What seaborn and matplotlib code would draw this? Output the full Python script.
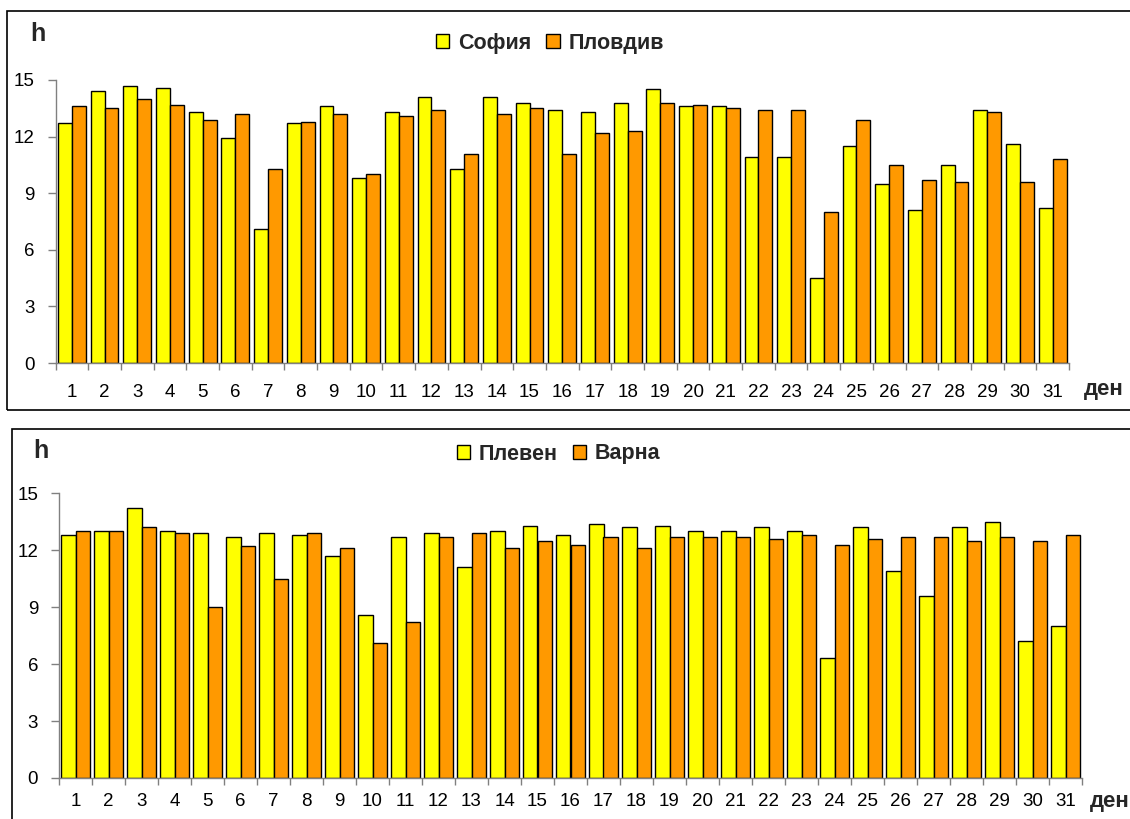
import matplotlib
matplotlib.use("Agg")
import matplotlib.pyplot as plt
import seaborn as sns
import pandas as pd
import numpy as np
from matplotlib.patches import Patch, Rectangle

# ---- data ----
days = list(range(1, 32))
sofia = [12.7, 14.4, 14.7, 14.6, 13.3, 11.9, 7.1, 12.7, 13.6, 9.8, 13.3, 14.1, 10.3, 14.1, 13.8, 13.4,
         13.3, 13.8, 14.5, 13.6, 13.6, 10.9, 10.9, 4.5, 11.5, 9.5, 8.1, 10.5, 13.4, 11.6, 8.2]
plovdiv = [13.6, 13.5, 14.0, 13.7, 12.9, 13.2, 10.3, 12.8, 13.2, 10.0, 13.1, 13.4, 11.1, 13.2, 13.5, 11.1,
           12.2, 12.3, 13.8, 13.7, 13.5, 13.4, 13.4, 8.0, 12.9, 10.5, 9.7, 9.6, 13.3, 9.6, 10.8]
pleven = [12.8, 13.0, 14.2, 13.0, 12.9, 12.7, 12.9, 12.8, 11.7, 8.6, 12.7, 12.9, 11.1, 13.0, 13.3, 12.8,
          13.4, 13.2, 13.3, 13.0, 13.0, 13.2, 13.0, 6.3, 13.2, 10.9, 9.6, 13.2, 13.5, 7.2, 8.0]
varna = [13.0, 13.0, 13.2, 12.9, 9.0, 12.2, 10.5, 12.9, 12.1, 7.1, 8.2, 12.7, 12.9, 12.1, 12.5, 12.3,
         12.7, 12.1, 12.7, 12.7, 12.7, 12.6, 12.8, 12.3, 12.6, 12.7, 12.7, 12.5, 12.7, 12.5, 12.8]
top_cities = ["София", "Пловдив"]
bottom_cities = ["Плевен", "Варна"]
yticks = [0, 3, 6, 9, 12, 15]
xlabel_text = "ден"
ylabel_text = "h"

YELLOW = "#FFFF00"
ORANGE = "#FF9900"

sns.set_theme(style="white")
plt.rcParams['font.family'] = ['Liberation Sans', 'DejaVu Sans']

W, H = 1130, 819
fig = plt.figure(figsize=(W / 100, H / 100), dpi=100)
fig.patch.set_facecolor("white")


def px(x0, y0, x1, y1):
    return [x0 / W, 1 - y1 / H, (x1 - x0) / W, (y1 - y0) / H]


def draw_panel(rect, names, a, b, legend_xy, h_xy, den_xy, xpad, ypad):
    ax = fig.add_axes(rect)
    df = pd.DataFrame({
        "day": [str(d) for d in days] * 2,
        "h": a + b,
        "city": [names[0]] * len(days) + [names[1]] * len(days),
    })
    sns.barplot(data=df, x="day", y="h", hue="city", order=[str(d) for d in days],
                hue_order=names, palette=[YELLOW, ORANGE], saturation=1, edgecolor="black",
                linewidth=1.0, width=0.85, gap=0, errorbar=None, legend=False, ax=ax)
    ax.set_xlim(-0.5, len(days) - 0.5)
    ax.set_ylim(0, 15)
    ax.set_yticks(yticks)
    ax.set_yticklabels([str(v) for v in yticks], fontsize=13.5)
    ax.set_xticks(range(len(days)))
    ax.set_xticklabels([str(d) for d in days], fontsize=13.5)
    ax.set_xticks(np.arange(-0.5, len(days), 1.0), minor=True)
    ax.tick_params(axis="x", which="major", length=0, pad=xpad, colors="black")
    ax.tick_params(axis="x", which="minor", length=5, width=1, color="#808080", direction="out", bottom=True)
    ax.tick_params(axis="y", which="major", length=6, width=1, color="#808080", direction="out",
                   left=True, pad=ypad, colors="black")
    ax.tick_params(axis="y", color="#808080")
    ax.set_xlabel("")
    ax.set_ylabel("")
    for s in ["top", "right"]:
        ax.spines[s].set_visible(False)
    for s in ["left", "bottom"]:
        ax.spines[s].set_color("#808080")
        ax.spines[s].set_linewidth(1)
    ax.set_facecolor("white")
    handles = [Patch(facecolor=YELLOW, edgecolor="black", linewidth=1.0, label=names[0]),
               Patch(facecolor=ORANGE, edgecolor="black", linewidth=1.0, label=names[1])]
    fig.legend(handles=handles, loc="center", bbox_to_anchor=(legend_xy[0] / W, 1 - legend_xy[1] / H),
               ncol=2, frameon=False, prop={"weight": "bold", "size": 15.5},
               handlelength=0.62, handleheight=0.62, handletextpad=0.4, columnspacing=0.7,
               borderpad=0, borderaxespad=0)
    fig.text(h_xy[0] / W, 1 - h_xy[1] / H, ylabel_text, fontsize=18, fontweight="bold",
             ha="center", va="center")
    fig.text(den_xy[0] / W, 1 - den_xy[1] / H, xlabel_text, fontsize=16, fontweight="bold",
             ha="left", va="center")
    return ax


draw_panel(px(55.5, 80, 1069, 363), top_cities, sofia, plovdiv,
           (550, 43.5), (38, 34), (1084, 390), 15, 9)
draw_panel(px(59, 493.3, 1082, 778), bottom_cities, pleven, varna,
           (558.5, 454), (41, 451), (1090, 801), 11, 9)

# panel frames
fig.add_artist(Rectangle((7 / W, 1 - 410 / H), 1.2, (410 - 10.7) / H, transform=fig.transFigure,
                         fill=False, edgecolor="black", linewidth=1.2))
fig.add_artist(Rectangle((12 / W, -0.05), 1.2, 0.05 + 1 - 429 / H, transform=fig.transFigure,
                         fill=False, edgecolor="black", linewidth=1.2))

fig.savefig("out.png", dpi=100)
